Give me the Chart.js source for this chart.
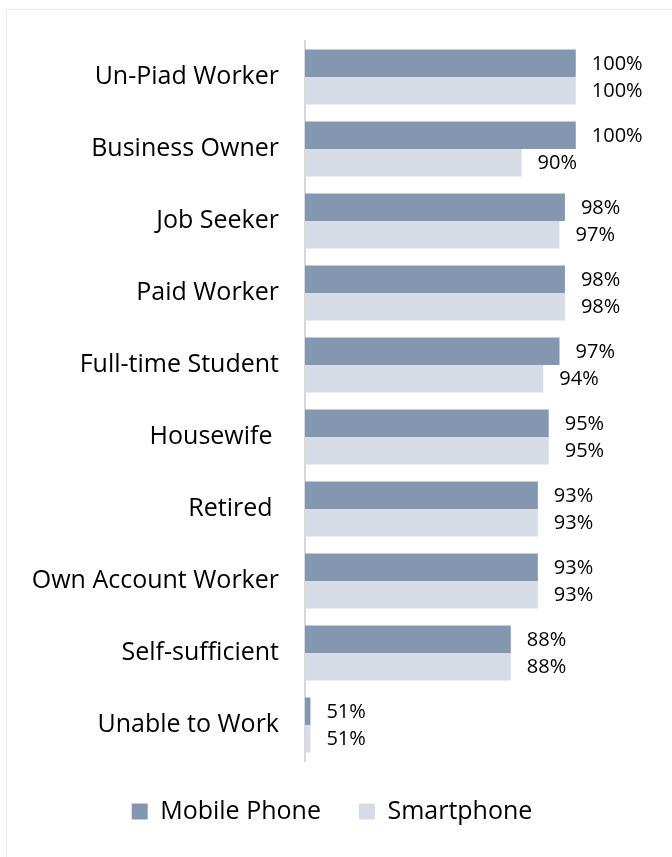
<!DOCTYPE html>
<html>
<head>
<meta charset="utf-8">
<script src="https://cdn.jsdelivr.net/npm/chart.js@4"></script>
<style>
  html, body { margin: 0; padding: 0; background: #fff; }
  #wrap {
    position: absolute; left: 6px; top: 9px;
    width: 666px; height: 848px;
    border-left: 1px solid #ececec; border-top: 1px solid #ececec;
  }
  canvas { display: block; }
</style>
</head>
<body>
<div id="wrap"><canvas id="chart" width="665" height="847"></canvas></div>
<script>
// categories and the share (%) owning each device
const categories = [
  "Un-Piad Worker", "Business Owner", "Job Seeker", "Paid Worker",
  "Full-time Student", "Housewife ", "Retired ", "Own Account Worker",
  "Self-sufficient", "Unable to Work"
];
const mobilePhone = [100, 100, 98, 98, 97, 95, 93, 93, 88, 51];
const smartphone = [100, 90, 97, 98, 94, 95, 93, 93, 88, 51];

const FONT = "'Open Sans', 'Liberation Sans', sans-serif";

// writes "NN%" just past the end of every bar
const valueLabels = {
  id: "valueLabels",
  afterDatasetsDraw(chart) {
    const ctx = chart.ctx;
    ctx.save();
    ctx.font = "20px " + FONT;
    ctx.fillStyle = "#000";
    ctx.textBaseline = "middle";
    ctx.textAlign = "left";
    chart.data.datasets.forEach((ds, i) => {
      chart.getDatasetMeta(i).data.forEach((bar, j) => {
        ctx.fillText(ds.data[j] + "%", bar.x + 16, bar.y + 1);
      });
    });
    ctx.restore();
  }
};

new Chart(document.getElementById("chart"), {
  type: "bar",
  data: {
    labels: categories,
    datasets: [
      { label: "Mobile Phone", data: mobilePhone, backgroundColor: "#8497B0" },
      { label: "Smartphone", data: smartphone, backgroundColor: "#D6DCE5" }
    ]
  },
  options: {
    indexAxis: "y",
    responsive: false,
    animation: false,
    datasets: { bar: { barPercentage: 1, categoryPercentage: 0.764 } },
    layout: { padding: { top: 31, right: 15, bottom: 23, left: 0 } },
    scales: {
      // axis starts at 50%; the extra room past 100 holds the value labels
      x: { display: false, min: 50, max: 115 },
      y: {
        grid: { display: false, drawTicks: false },
        border: { display: true, color: "#d9d9d9", width: 2 },
        ticks: { color: "#000", padding: 26, font: { family: FONT, size: 25 } },
        afterFit(scale) {
          scale.width = 298;
          scale.paddingTop = 0;
          scale.paddingBottom = 0;
        }
      }
    },
    plugins: {
      legend: {
        position: "bottom",
        labels: {
          color: "#000",
          boxWidth: 16, boxHeight: 16,
          padding: 38,
          font: { family: FONT, size: 25 }
        }
      },
      tooltip: { enabled: false }
    }
  },
  plugins: [valueLabels]
});
</script>
</body>
</html>
